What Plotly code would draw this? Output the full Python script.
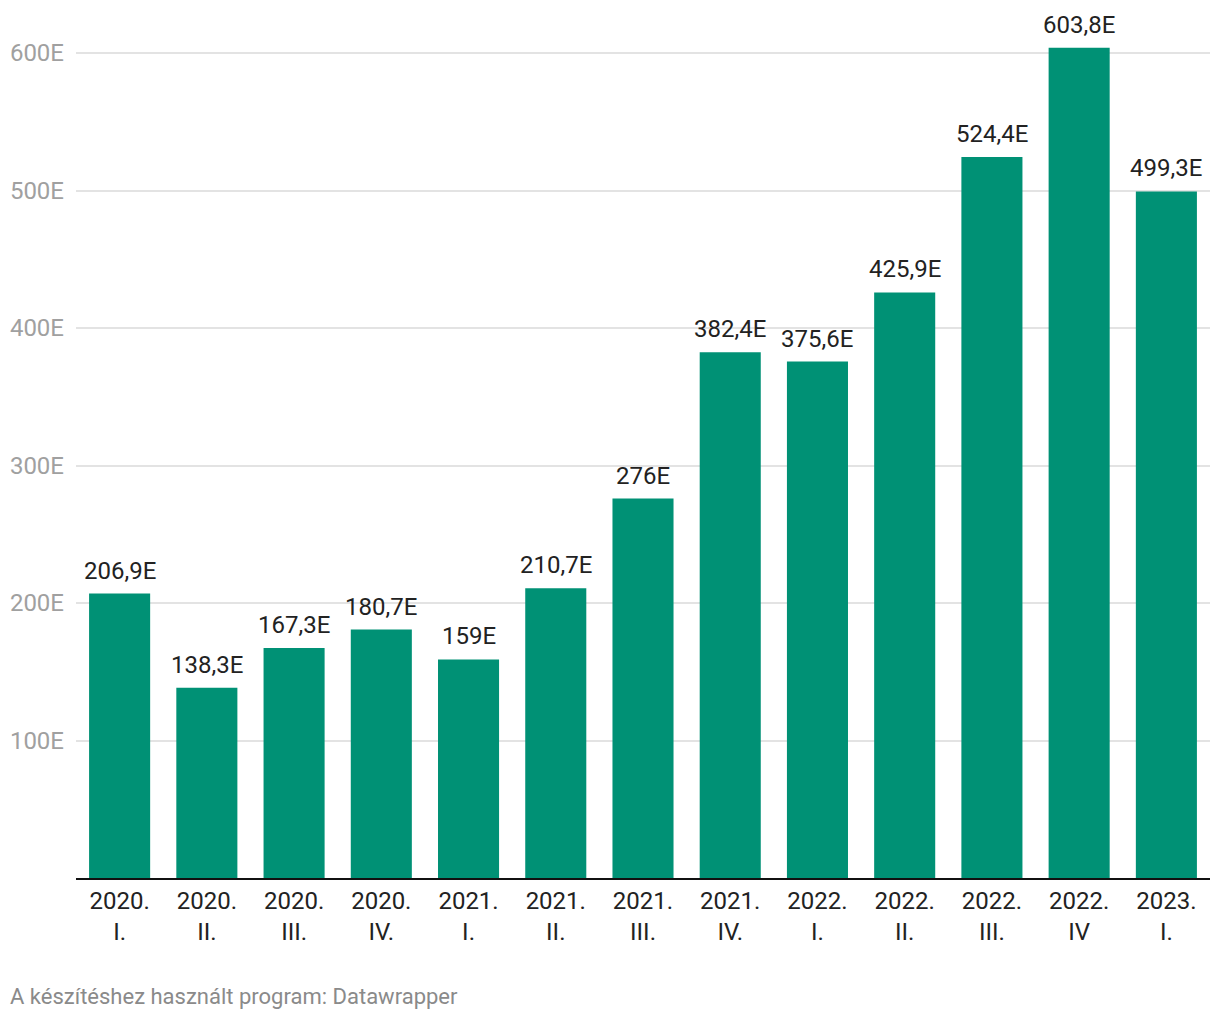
import plotly.graph_objects as go

categories = ["2020.<br>I.", "2020.<br>II.", "2020.<br>III.", "2020.<br>IV.",
              "2021.<br>I.", "2021.<br>II.", "2021.<br>III.", "2021.<br>IV.",
              "2022.<br>I.", "2022.<br>II.", "2022.<br>III.", "2022.<br>IV",
              "2023.<br>I."]
values = [206.9, 138.3, 167.3, 180.7, 159.0, 210.7, 276.0, 382.4, 375.6, 425.9, 524.4, 603.8, 499.3]
y_ticks = [100, 200, 300, 400, 500, 600]
y_tick_labels = ["100E", "200E", "300E", "400E", "500E", "600E"]


def fmt(v):
    s = ("%.1f" % v).rstrip("0").rstrip(".")
    return s.replace(".", ",") + "E"


labels = [fmt(v) for v in values]

FONT = "Roboto"

fig = go.Figure(go.Bar(
    x=categories, y=values,
    marker=dict(color="#009175", line=dict(width=0)),
    cliponaxis=False, hoverinfo="x+y",
))

annotations = [dict(x=c, y=v, text=t, xref="x", yref="y", showarrow=False,
                    yanchor="bottom", xanchor="center", yshift=7,
                    font=dict(family=FONT, size=24, color="#222222"))
               for c, v, t in zip(categories, values, labels)]
annotations.append(dict(text="A készítéshez használt program: Datawrapper", xref="paper", yref="paper",
                        x=-68 / 1134, y=-(997 - 878) / 858, xanchor="left", yanchor="middle",
                        showarrow=False, font=dict(family=FONT, size=22, color="#8a8a8a")))

fig.update_layout(
    width=1220, height=1020,
    margin=dict(l=76, r=10, t=20, b=142),
    plot_bgcolor="white", paper_bgcolor="white",
    bargap=0.30,
    showlegend=False,
    font=dict(family=FONT),
    xaxis=dict(showline=True, linecolor="#111111", linewidth=2, ticks="",
               tickfont=dict(family=FONT, size=24, color="#222222"),
               showgrid=False, ticklabelstandoff=0),
    yaxis=dict(range=[0, (878 - 20) / 1.375], tickvals=y_ticks, ticktext=y_tick_labels,
               showgrid=True, gridcolor="#e3e3e3", gridwidth=2, zeroline=False,
               tickfont=dict(family=FONT, size=24, color="#a0a0a0"), ticks="",
               ticklabelstandoff=11),
    annotations=annotations,
)

fig.write_html("out.html")
